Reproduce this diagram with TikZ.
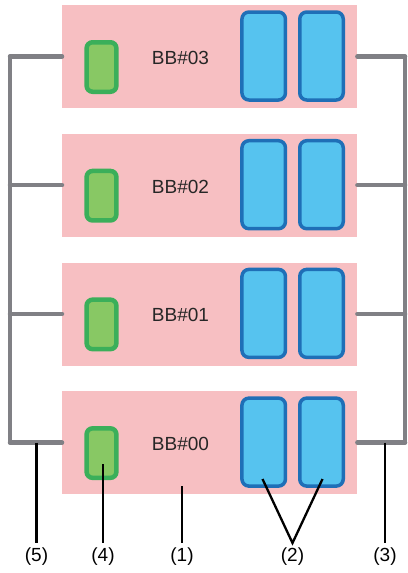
\documentclass[tikz,border=0pt]{standalone}
\usepackage{fontspec}
\setmainfont{Liberation Sans}
\begin{document}
\begin{tikzpicture}[x=1pt,y=-1pt,
  bbox/.style={fill=pinkc,draw=none},
  gbox/.style={fill=greenf,draw=greenb,line width=4.5pt,rounded corners=6pt},
  cbox/.style={fill=bluef,draw=blueb,line width=3.5pt,rounded corners=7pt},
  bus/.style={draw=grayc,line width=4.5pt},
  callout/.style={draw=black,line width=2.3pt},
  lbl/.style={font=\fontsize{19}{22}\selectfont,inner sep=0pt},
  bbl/.style={font=\fontsize{19}{22}\selectfont,text=black!85,inner sep=0pt}]
\definecolor{pinkc}{HTML}{F7BFC2}
\definecolor{greenf}{HTML}{88C864}
\definecolor{greenb}{HTML}{3BAF5A}
\definecolor{bluef}{HTML}{56C3EF}
\definecolor{blueb}{HTML}{1F6FB7}
\definecolor{grayc}{HTML}{808085}
\useasboundingbox (0,0) rectangle (407,573);
\foreach \i/\t in {0/03,1/02,2/01,3/00}{
  \pgfmathsetmacro{\yy}{5+128.7*\i}
  \node[bbox,minimum width=295pt,minimum height=103pt,anchor=north west,inner sep=0pt] (bb\t) at (62,\yy) {};
  \node[gbox,minimum width=29.8pt,minimum height=49.5pt,inner sep=0pt] (g\t) at (101.5,\yy+62) {};
  \node[cbox,minimum width=43.5pt,minimum height=88pt,inner sep=0pt] (a\t) at (263.7,\yy+51) {};
  \node[cbox,minimum width=43.5pt,minimum height=88pt,inner sep=0pt] (b\t) at (321.5,\yy+51) {};
  \node[bbl] (t\t) at (180.5,\yy+53) {BB\#\t};
  \coordinate (l\t) at (10,\yy+51.5);
  \coordinate (r\t) at (405,\yy+51.5);
}
\foreach \t in {03,02,01,00}{
  \draw[bus,line cap=round] (bb\t.west |- l\t) -- (l\t);
  \draw[bus,line cap=round] (bb\t.east |- r\t) -- (r\t);
}
\draw[bus] (l03) -- (l00);
\draw[bus] (r03) -- (r00);
% callouts
\node[lbl] (n5) at (36.5,557) {(5)};
\node[lbl] (n4) at (103,557) {(4)};
\node[lbl] (n1) at (182,557) {(1)};
\node[lbl] (n2) at (292.5,557) {(2)};
\node[lbl] (n3) at (385,557) {(3)};
\coordinate (c5) at (36.5,442.5);
\coordinate (c4) at (103,464);
\coordinate (c1) at (182,486);
\coordinate (c2a) at (262.5,479);
\coordinate (c2b) at (322.5,479);
\coordinate (c3) at (385,442.5);
\coordinate (c2m) at (292.5,543);
\draw[callout] (c5) -- (n5.north |- c2m);
\draw[callout] (c4) -- (n4.north |- c2m);
\draw[callout] (c1) -- (n1.north |- c2m);
\draw[callout] (c2a) -- (c2m) -- (c2b);
\draw[callout] (c3) -- (n3.north |- c2m);
\end{tikzpicture}
\end{document}
